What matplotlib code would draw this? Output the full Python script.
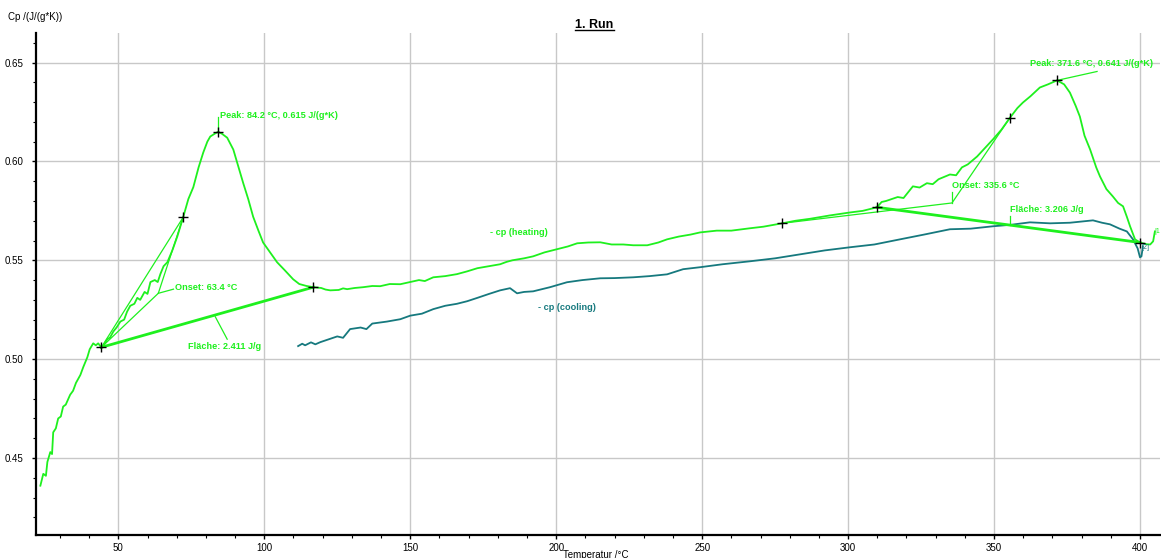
import matplotlib
matplotlib.use("Agg")
import matplotlib.pyplot as plt
from matplotlib.lines import Line2D
from matplotlib.ticker import MultipleLocator, FormatStrFormatter

plt.rcParams['font.family'] = ['Liberation Sans', 'DejaVu Sans']

# heating run (temperature in degC, cp in J/(g*K))
heat_T = [23.3, 24.3, 25.2, 25.7, 26.7, 27.3, 27.7, 28.6, 29.4, 30.3, 31.1, 32.0, 33.5, 34.5,
          35.5, 37.0, 38.0, 39.4, 40.2, 41.4, 42.3, 43.1, 44.2, 45.0, 46.2, 47.2, 48.3, 49.4,
          50.7, 52.0, 53.0, 54.1, 55.5, 56.5, 57.5, 59.0, 60.0, 61.0, 62.5, 63.5, 64.4, 65.5,
          66.8, 68.5, 70.2, 72.2, 74.0, 75.7, 77.5, 79.1, 80.5, 81.5, 83.0, 84.2, 85.5, 87.3,
          89.4, 91.0, 92.8, 94.5, 96.2, 98.0, 99.6, 102.0, 104.4, 107.0, 109.9, 112.0, 114.5,
          116.8, 119.5, 121.0, 122.6, 125.5, 127.0, 128.4, 131.0, 133.9, 137.0, 139.7, 143.0,
          146.6, 150.0, 153.0, 155.0, 157.9, 162.0, 166.0, 169.5, 173.0, 177.0, 180.8, 183.0,
          185.0, 189.0, 192.1, 196.0, 200.3, 204.0, 207.2, 211.0, 215.1, 219.0, 223.0, 226.4,
          231.2, 235.0, 238.0, 242.0, 246.0, 249.3, 255.0, 260.0, 266.4, 271.0, 277.4, 282.0,
          287.0, 293.8, 300.7, 305.0, 309.9, 311.5, 313.0, 317.0, 319.0, 322.2, 324.5, 327.0,
          329.0, 331.0, 334.9, 337.0, 339.0, 341.0, 344.2, 347.0, 349.6, 352.5, 355.5, 358.0,
          359.9, 362.5, 365.7, 368.5, 371.6, 374.0, 376.0, 378.0, 379.4, 381.0, 382.9, 385.0,
          386.3, 388.5, 390.7, 392.5, 394.2, 395.5, 396.6, 398.3, 400.0, 401.2, 402.4, 403.5,
          404.5, 405.1]
heat_cp = [0.436, 0.442, 0.441, 0.448, 0.453, 0.452, 0.463, 0.465, 0.470, 0.471, 0.476, 0.477,
           0.482, 0.484, 0.488, 0.492, 0.496, 0.501, 0.505, 0.508, 0.507, 0.508, 0.506, 0.507,
           0.510, 0.511, 0.514, 0.516, 0.519, 0.520, 0.524, 0.527, 0.528, 0.531, 0.530, 0.534,
           0.533, 0.539, 0.540, 0.539, 0.543, 0.547, 0.549, 0.555, 0.562, 0.5717, 0.581, 0.587,
           0.597, 0.6045, 0.610, 0.6126, 0.614, 0.615, 0.614, 0.612, 0.606, 0.598, 0.589, 0.581,
           0.572, 0.565, 0.559, 0.554, 0.549, 0.545, 0.5404, 0.538, 0.537, 0.5364, 0.536,
           0.5352, 0.5348, 0.535, 0.5358, 0.5354, 0.536, 0.5364, 0.537, 0.5369, 0.538, 0.5379,
           0.539, 0.540, 0.5395, 0.5414, 0.542, 0.543, 0.5444, 0.546, 0.547, 0.548, 0.5492,
           0.550, 0.551, 0.552, 0.554, 0.5556, 0.557, 0.5586, 0.559, 0.5591, 0.558, 0.558,
           0.5576, 0.5576, 0.559, 0.5606, 0.562, 0.563, 0.5641, 0.565, 0.565, 0.5662, 0.567,
           0.5687, 0.570, 0.571, 0.5727, 0.5742, 0.575, 0.5768, 0.5795, 0.580, 0.582, 0.5815,
           0.5874, 0.5868, 0.589, 0.5885, 0.591, 0.5934, 0.5930, 0.597, 0.5985, 0.6025, 0.607,
           0.6111, 0.616, 0.6222, 0.627, 0.6298, 0.633, 0.6374, 0.639, 0.641, 0.639, 0.6348,
           0.628, 0.6227, 0.613, 0.6061, 0.597, 0.5924, 0.586, 0.5823, 0.579, 0.5773, 0.572,
           0.5672, 0.5606, 0.559, 0.5585, 0.5581, 0.558, 0.5596, 0.5646]

# cooling run
cool_T = [111.6, 113.0, 114.0, 116.0, 117.5, 119.2, 122.0, 125.0, 127.0, 129.4, 133.0, 135.0,
          137.0, 142.0, 146.6, 150.0, 154.0, 157.9, 162.0, 166.0, 169.5, 173.0, 177.0, 180.8,
          184.2, 186.6, 189.0, 192.1, 197.9, 203.7, 209.0, 215.1, 220.0, 226.4, 232.0, 238.0,
          243.5, 249.3, 257.0, 266.4, 275.0, 283.5, 292.0, 300.7, 309.0, 317.8, 326.0, 334.9,
          342.0, 349.6, 356.0, 362.3, 369.2, 376.0, 383.9, 387.0, 389.7, 393.0, 395.5, 397.6,
          399.2, 400.0, 400.5, 401.0]
cool_cp = [0.5066, 0.5078, 0.507, 0.5085, 0.5075, 0.5086, 0.510, 0.5115, 0.5108, 0.5152,
           0.516, 0.5152, 0.518, 0.519, 0.5202, 0.522, 0.523, 0.5253, 0.527, 0.528, 0.5293,
           0.531, 0.533, 0.5348, 0.5359, 0.5333, 0.534, 0.5343, 0.5364, 0.5389, 0.540, 0.5409,
           0.541, 0.5414, 0.542, 0.5429, 0.5455, 0.5465, 0.548, 0.5495, 0.551, 0.5530, 0.555,
           0.5566, 0.558, 0.5606, 0.563, 0.5657, 0.566, 0.5672, 0.568, 0.5692, 0.5687, 0.569,
           0.5702, 0.569, 0.5682, 0.566, 0.5646, 0.5606, 0.556, 0.5515, 0.552, 0.5571]

# evaluation results, first peak
base1_T, base1_cp = [44.2, 116.8], [0.506, 0.5364]
onset1 = (63.7, 0.5333)
infl1 = (72.2, 0.5717)
peak1 = (84.2, 0.615)
# second peak
base2_T, base2_cp = [309.9, 400.0], [0.5768, 0.559]
ref2 = (277.4, 0.5687)
onset2 = (335.6, 0.579)
infl2 = (355.5, 0.6222)
peak2 = (371.6, 0.641)

GREEN = '#1ef01e'
TEAL = '#16797e'

fig = plt.figure(figsize=(11.61, 5.58), dpi=100)
ax = fig.add_axes([0.031, 0.041, 0.968, 0.9])

ax.plot(cool_T, cool_cp, color=TEAL, lw=1.3, zorder=3)
ax.plot(heat_T, heat_cp, color=GREEN, lw=1.3, zorder=4)

# baselines
ax.plot(base1_T, base1_cp, color=GREEN, lw=2, zorder=5)
ax.plot(base2_T, base2_cp, color=GREEN, lw=2, zorder=5)

# onset constructions
thin = dict(color=GREEN, lw=0.9, zorder=5)
ax.plot([base1_T[0], onset1[0], infl1[0]], [base1_cp[0], onset1[1], infl1[1]], **thin)
ax.plot([base1_T[0], infl1[0]], [base1_cp[0], infl1[1]], **thin)
ax.plot([ref2[0], onset2[0], infl2[0]], [ref2[1], onset2[1], infl2[1]], **thin)

# markers
mk_T = [base1_T[0], infl1[0], peak1[0], base1_T[1], ref2[0], base2_T[0], infl2[0], peak2[0], base2_T[1]]
mk_cp = [base1_cp[0], infl1[1], peak1[1], base1_cp[1], ref2[1], base2_cp[0], infl2[1], peak2[1], base2_cp[1]]
ax.plot(mk_T, mk_cp, ls='none', marker='+', ms=7, mew=1, color='black', zorder=6)

lab = dict(color=GREEN, fontsize=6.6, fontweight='bold', va='center', ha='left', zorder=7)

# first peak labels
ax.plot([peak1[0], peak1[0]], [peak1[1], 0.6225], **thin)
ax.text(84.9, 0.6232, 'Peak: 84.2 °C, 0.615 J/(g*K)', **lab)
ax.plot([onset1[0], 68.9], [onset1[1], 0.5354], **thin)
ax.text(69.5, 0.5364, 'Onset: 63.4 °C', **lab)
ax.plot([83.2, 87.3], [0.5215, 0.5101], **thin)
ax.text(74.0, 0.5066, 'Fläche: 2.411 J/g', **lab)

# second peak labels
ax.plot([onset2[0], onset2[0]], [onset2[1], 0.5845], **thin)
ax.text(335.6, 0.5879, 'Onset: 335.6 °C', **lab)
ax.plot([peak2[0], 385.3], [peak2[1], 0.6455], **thin)
ax.text(362.3, 0.6495, 'Peak: 371.6 °C, 0.641 J/(g*K)', clip_on=False, **lab)
ax.plot([355.5, 355.5], [0.5678, 0.5722], **thin)
ax.text(355.5, 0.5758, 'Fläche: 3.206 J/g', **lab)

# curve names
ax.text(177.4, 0.5641, '- cp (heating)', **lab)
ax.text(193.8, 0.5263, '- cp (cooling)', **dict(lab, color=TEAL))
ax.text(400.6, 0.5565, '[2]', color=TEAL, fontsize=5, va='center', ha='left', zorder=7)
ax.text(404.9, 0.5645, '|1', color=GREEN, fontsize=5, va='center', ha='left', zorder=7)

ax.set_xlim(21.8, 406.8)
ax.set_ylim(0.411, 0.665)
ax.xaxis.set_major_locator(MultipleLocator(50))
ax.xaxis.set_minor_locator(MultipleLocator(10))
ax.yaxis.set_major_locator(MultipleLocator(0.05))
ax.yaxis.set_minor_locator(MultipleLocator(0.01))
ax.yaxis.set_major_formatter(FormatStrFormatter('%.2f'))
ax.grid(True, which='major', color='#c8c8c8', lw=1)
ax.set_axisbelow(True)

for side in ('top', 'right'):
    ax.spines[side].set_visible(False)
for side in ('left', 'bottom'):
    ax.spines[side].set_linewidth(1.6)
ax.tick_params(which='major', length=3, width=1, labelsize=7, colors='black', pad=3)
ax.tick_params(which='minor', length=2, width=0.8)
ax.tick_params(axis='y', which='major', pad=6)

fig.text(0.007, 0.97, 'Cp /(J/(g*K))', fontsize=7, ha='left', va='center')
fig.text(0.513, 0.005, 'Temperatur /°C', fontsize=7, ha='center', va='center')

# underlined title
title = fig.text(0.512, 0.955, '1. Run', fontsize=9, fontweight='bold', ha='center', va='center')
fig.canvas.draw()
bb = title.get_window_extent().transformed(fig.transFigure.inverted())
fig.add_artist(Line2D([bb.x0, bb.x1], [bb.y0 + 0.002, bb.y0 + 0.002], color='black', lw=1,
                      transform=fig.transFigure))

fig.savefig('out.png', dpi=100)
